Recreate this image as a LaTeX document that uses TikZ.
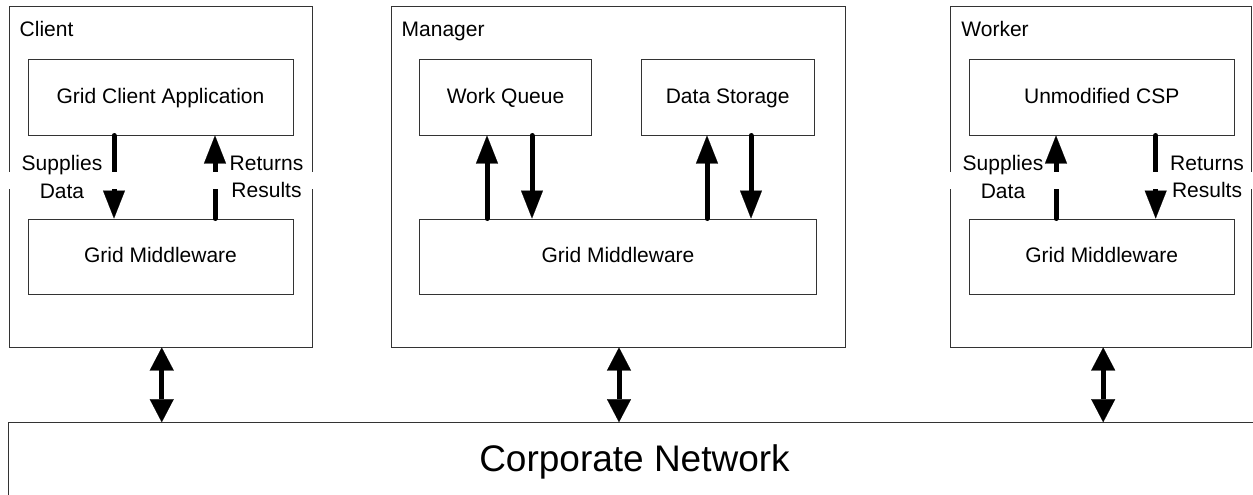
\documentclass[tikz,border=0pt]{standalone}
\usepackage{fontspec}
\setmainfont{Liberation Sans}
\usetikzlibrary{arrows.meta}

\tikzset{
	frame/.style={draw=black!80, line width=1pt, minimum height=340pt, inner sep=0pt},
	box/.style={draw=black!80, line width=1pt, minimum height=75pt, inner sep=0pt,
		text height=15pt, text depth=4pt, font=\fontsize{21}{25}\selectfont},
	title/.style={anchor=base west, inner sep=0pt, font=\fontsize{21}{25}\selectfont},
	note/.style={align=center, inner sep=0pt, font=\fontsize{21}{27.5}\selectfont},
	flow/.style={line width=5pt, line cap=round, -{Triangle[length=28pt,width=22pt,line width=0.1pt]}},
	link/.style={line width=5pt, {Triangle[length=23pt,width=24pt,line width=0.1pt]}-{Triangle[length=23pt,width=24pt,line width=0.1pt]}}
}

\begin{document}
\begin{tikzpicture}[x=1pt,y=-1pt]
	
	\useasboundingbox (0,0) rectangle (1253,495);
	\clip (0,0) rectangle (1253,495);
	
	%Rechner-Rahmen
	\node[frame, minimum width=302.5pt] (client) at (160.75,177) {};
	\node[frame, minimum width=454pt] (manager) at (618,177) {};
	\node[frame, minimum width=301pt] (worker) at (1101.2,177) {};
	\node[title] (client title) at ([xshift=10.5pt,yshift=-30pt]client.north west) {Client};
	\node[title] (manager title) at ([xshift=11pt,yshift=-30pt]manager.north west) {Manager};
	\node[title] (worker title) at ([xshift=11pt,yshift=-30pt]worker.north west) {Worker};
	
	%Komponenten
	\node[box, minimum width=265pt] (app) at (160.5,97.5) {Grid Client Application};
	\node[box, minimum width=265pt] (client mw) at (160.5,256.5) {Grid Middleware};
	\node[box, minimum width=172.4pt] (queue) at (505.5,97.5) {Work Queue};
	\node[box, minimum width=172.7pt] (store) at (727.7,97.5) {Data Storage};
	\node[box, minimum width=397.4pt] (manager mw) at (618,256.5) {Grid Middleware};
	\node[box, minimum width=264.7pt] (csp) at (1101.7,97.5) {Unmodified CSP};
	\node[box, minimum width=264.7pt] (worker mw) at (1101.7,256.5) {Grid Middleware};
	
	%Netzwerk
	\node[draw=black!80, line width=1pt, minimum width=1253pt, minimum height=78.6pt, inner sep=0pt,
		font=\fontsize{37}{44}\selectfont] (net) at (634.5,462) {Corporate Network};
	
	%Pfeile innerhalb der Rechner
	\coordinate (app out) at ([xshift=-46.5pt]app.south);
	\coordinate (app in) at ([xshift=54.5pt]app.south);
	\coordinate (queue in) at ([xshift=-18.5pt]queue.south);
	\coordinate (queue out) at ([xshift=26.5pt]queue.south);
	\coordinate (store in) at ([xshift=-20.7pt]store.south);
	\coordinate (store out) at ([xshift=23.3pt]store.south);
	\coordinate (csp in) at ([xshift=-45.7pt]csp.south);
	\coordinate (csp out) at ([xshift=54pt]csp.south);
	
	\draw[flow] (app out) -- (app out |- client mw.north);
	\draw[flow] (app in |- client mw.north) -- (app in);
	\draw[flow] (queue in |- manager mw.north) -- (queue in);
	\draw[flow] (queue out) -- (queue out |- manager mw.north);
	\draw[flow] (store in |- manager mw.north) -- (store in);
	\draw[flow] (store out) -- (store out |- manager mw.north);
	\draw[flow] (csp in |- worker mw.north) -- (csp in);
	\draw[flow] (csp out) -- (csp out |- worker mw.north);
	
	%Verbindungen zum Netzwerk
	\draw[link] ([xshift=1pt]client.south) -- ([xshift=1pt]client.south |- net.north);
	\draw[link] ([xshift=1pt]manager.south) -- ([xshift=1pt]manager.south |- net.north);
	\draw[link] ([xshift=2pt]worker.south) -- ([xshift=2pt]worker.south |- net.north);
	
	%Beschriftungen
	\fill[white] (4,172) rectangle (318,189);
	\fill[white] (945,172) rectangle (1258,189);
	\node[note] (supplies client) at (62,177) {Supplies\\Data};
	\node[note] (returns client) at (266.5,177) {Returns\\Results};
	\node[note] (supplies worker) at (1003,177) {Supplies\\Data};
	\node[note] (returns worker) at (1207,177) {Returns\\Results};
	
\end{tikzpicture}
\end{document}
